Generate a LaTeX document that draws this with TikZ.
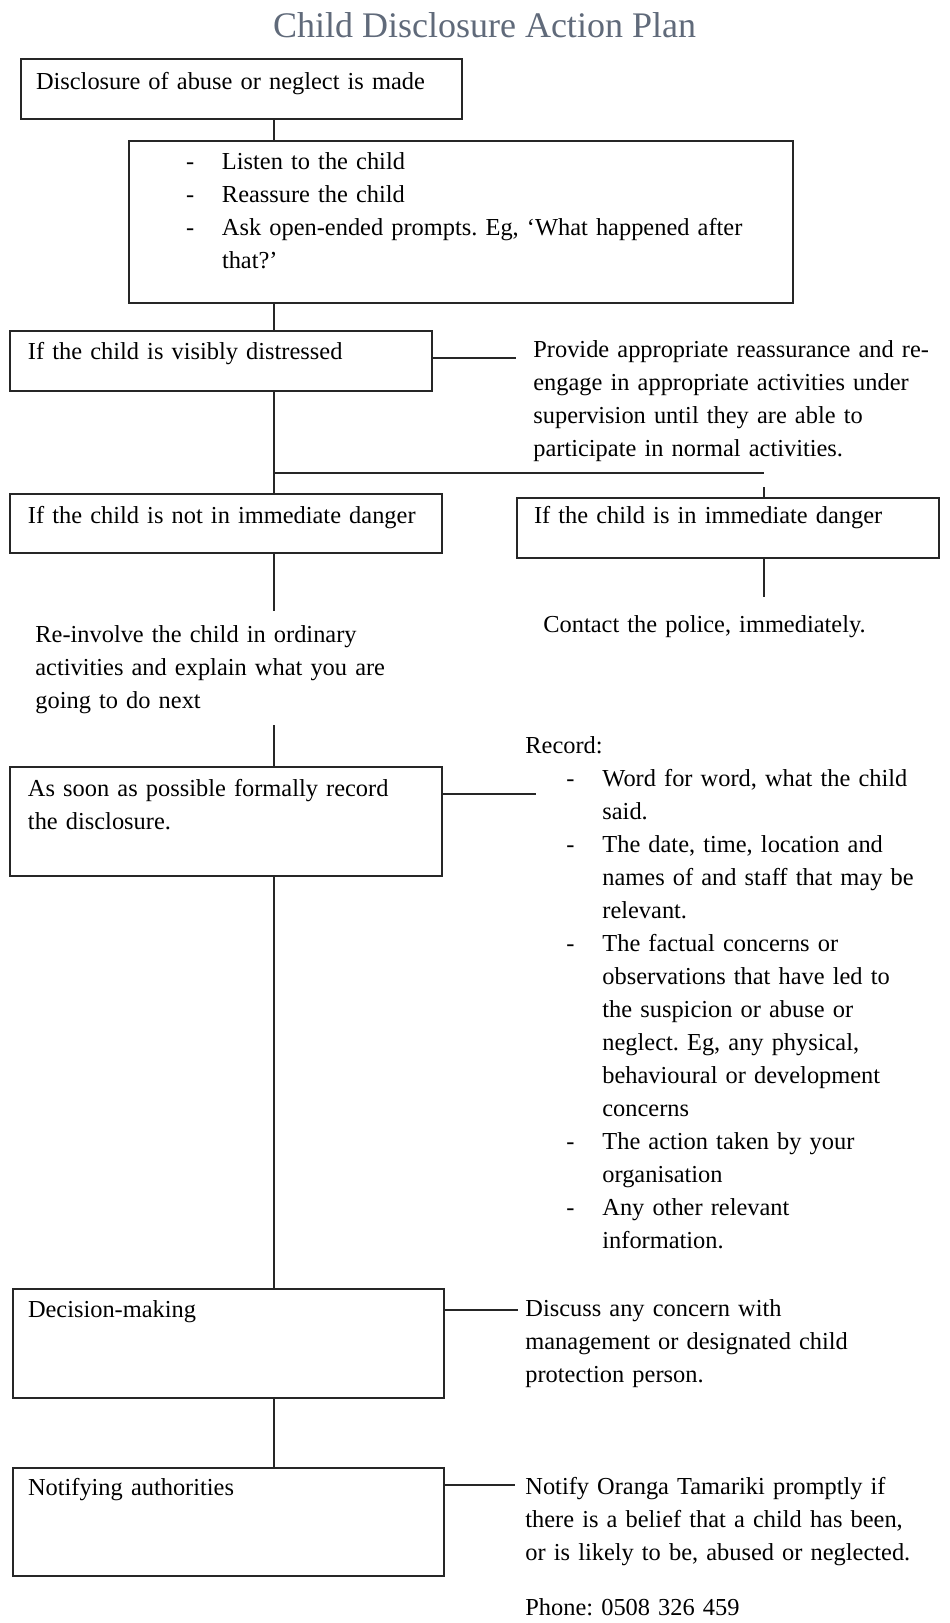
\documentclass[tikz,border=0pt]{standalone}
\usepackage{fontspec}
\setmainfont{Liberation Serif}
\usepackage{tikz}

\definecolor{titlegray}{RGB}{96,106,122}
\newcommand{\bodyfont}{\fontsize{12.2}{16.5}\selectfont}
\newcommand{\dashitem}{\makebox[18pt][l]{-}}
\newcommand{\listin}{\hspace*{20.5pt}}

\begin{document}
\hyphenpenalty=10000
\frenchspacing
\begin{tikzpicture}[x=0.5pt, y=-0.5pt,
  box/.style={draw=black!85, line width=1pt, anchor=north west, inner sep=0pt, align=left, font=\bodyfont},
  pad/.style={execute at begin node={\leftskip=#1\relax}},
  txt/.style={anchor=base west, inner sep=0pt, align=left, font=\bodyfont, text width=210pt},
  link/.style={draw=black!85, line width=0.7pt}]
\useasboundingbox (0,0) rectangle (949,1623);

\node [anchor=base, inner sep=0pt, font=\fontsize{18}{22}\selectfont, text=titlegray] (title) at (484.5,37) {Child Disclosure Action Plan};

\node [box, pad=7.5pt, text width=220.5pt, text height=15pt, text depth=15pt] (b1) at (20,58) {Disclosure of abuse or neglect is made};
\node [box, pad=28.5pt, text width=332pt, text height=14pt, text depth=67pt] (b2) at (128,140) {\dashitem Listen to the child\\
\dashitem Reassure the child\\
\dashitem Ask open-ended prompts. Eg, `What happened after\\
\hspace*{18pt}that?'};
\node [box, pad=9pt, text width=211pt, text height=14pt, text depth=16pt] (b3) at (9,330) {If the child is visibly distressed};
\node [box, pad=9pt, text width=216pt, text height=14.5pt, text depth=15pt] (b4) at (9,493) {If the child is not in immediate danger};
\node [box, pad=8.5pt, text width=211pt, text height=12.5pt, text depth=17.5pt] (b5) at (516,497) {If the child is in immediate danger};
\node [box, pad=9pt, text width=216pt, text height=14.5pt, text depth=40pt] (b6) at (9,766) {As soon as possible formally record\\the disclosure.};
\node [box, pad=7.5pt, text width=215.5pt, text height=14pt, text depth=40.5pt] (b7) at (12,1288) {Decision-making};
\node [box, pad=7.5pt, text width=215.5pt, text height=13.5pt, text depth=40.5pt] (b8) at (12,1467) {Notifying authorities};

\node [txt] (provide) at (533,357) {Provide appropriate reassurance and re-\\engage in appropriate activities under\\supervision until they are able to\\participate in normal activities.};
\node [txt] (contact) at (543,632) {Contact the police, immediately.};
\node [txt] (reinvolve) at (35,642) {Re-involve the child in ordinary\\activities and explain what you are\\going to do next};
\node [txt] (record) at (525,753) {Record:\\
\listin\dashitem Word for word, what the child\\
\listin\hspace*{18pt}said.\\
\listin\dashitem The date, time, location and\\
\listin\hspace*{18pt}names of and staff that may be\\
\listin\hspace*{18pt}relevant.\\
\listin\dashitem The factual concerns or\\
\listin\hspace*{18pt}observations that have led to\\
\listin\hspace*{18pt}the suspicion or abuse or\\
\listin\hspace*{18pt}neglect. Eg, any physical,\\
\listin\hspace*{18pt}behavioural or development\\
\listin\hspace*{18pt}concerns\\
\listin\dashitem The action taken by your\\
\listin\hspace*{18pt}organisation\\
\listin\dashitem Any other relevant\\
\listin\hspace*{18pt}information.};
\node [txt] (discuss) at (525,1316) {Discuss any concern with\\management or designated child\\protection person.};
\node [txt] (notify) at (525,1494) {Notify Oranga Tamariki promptly if\\there is a belief that a child has been,\\or is likely to be, abused or neglected.};
\node [txt] (phone) at (525,1615) {Phone: 0508 326 459};

\coordinate (spine) at (274,0);
\coordinate (jl) at (274,473);
\coordinate (jr) at (764,473);
\coordinate (s5) at (764,487);
\coordinate (e4) at (274,611);
\coordinate (e5) at (764,597);
\coordinate (t6) at (274,725);
\coordinate (e3) at (516,358);
\coordinate (e6) at (536,794);
\coordinate (e7) at (518,1310);
\coordinate (e8) at (515,1485);

\draw [link] (b1.south -| spine) -- (b2.north -| spine);
\draw [link] (b2.south -| spine) -- (b3.north -| spine);
\draw [link] (b3.south -| spine) -- (b4.north -| spine);
\draw [link] (jl) -- (jr);
\draw [link] (s5) -- (b5.north -| s5);
\draw [link] (b4.south -| spine) -- (e4);
\draw [link] (b5.south -| e5) -- (e5);
\draw [link] (t6) -- (b6.north -| spine);
\draw [link] (b6.south -| spine) -- (b7.north -| spine);
\draw [link] (b7.south -| spine) -- (b8.north -| spine);
\draw [link] (b3.east |- e3) -- (e3);
\draw [link] (b6.east |- e6) -- (e6);
\draw [link] (b7.east |- e7) -- (e7);
\draw [link] (b8.east |- e8) -- (e8);
\end{tikzpicture}
\end{document}
